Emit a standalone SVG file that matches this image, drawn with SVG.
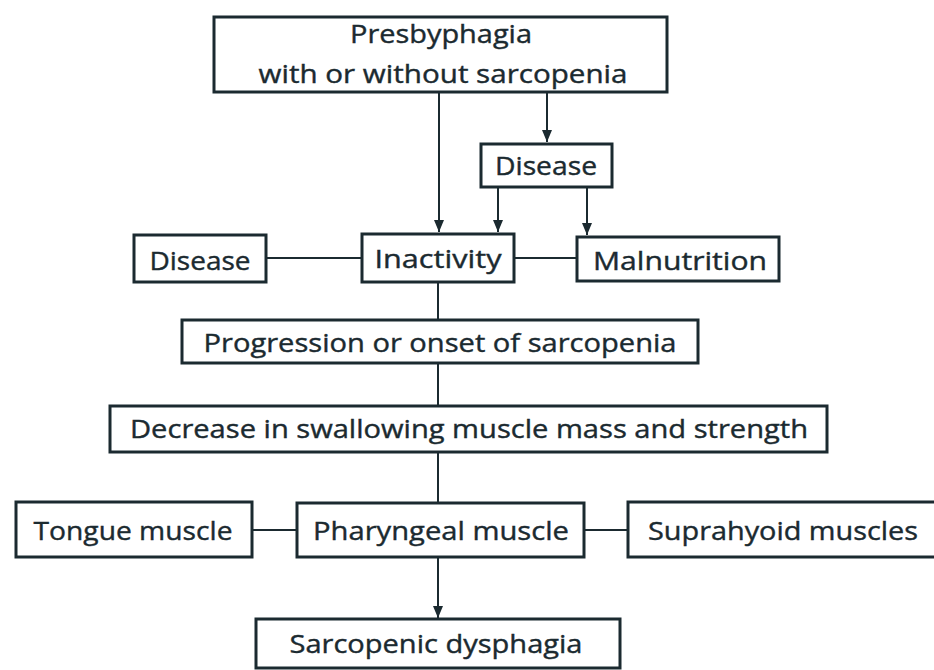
<svg xmlns="http://www.w3.org/2000/svg" width="934" height="670" viewBox="0 0 934 670">
<defs>
<style>
.box{fill:#ffffff;stroke:#1b2a30;stroke-width:3}
.t{font-family:"Open Sans","Liberation Sans",sans-serif;font-size:26px;fill:#1b2a30;stroke:#1b2a30;stroke-width:0.4;text-anchor:middle}
.c{stroke:#1b2a30;stroke-width:2;fill:none}
</style>
<marker id="av" markerUnits="userSpaceOnUse" markerWidth="10" markerHeight="12" viewBox="0 0 10 12" refX="5" refY="12" orient="0">
<path d="M0,0 L10,0 L5,12 Z" fill="#1b2a30"/>
</marker>
</defs>
<rect width="934" height="670" fill="#ffffff"/>
<g id="connectors">
<line class="c" x1="439" y1="92" x2="439" y2="232" marker-end="url(#av)"/>
<line class="c" x1="547" y1="92" x2="547" y2="142" marker-end="url(#av)"/>
<line class="c" x1="498" y1="187" x2="498" y2="232" marker-end="url(#av)"/>
<line class="c" x1="587" y1="187" x2="587" y2="235" marker-end="url(#av)"/>
<line class="c" x1="266" y1="258" x2="362" y2="258"/>
<line class="c" x1="514" y1="258" x2="577" y2="258"/>
<line class="c" x1="438" y1="282" x2="438" y2="319"/>
<line class="c" x1="438" y1="363" x2="438" y2="406"/>
<line class="c" x1="438" y1="452" x2="438" y2="502"/>
<line class="c" x1="252" y1="530" x2="297" y2="530"/>
<line class="c" x1="584" y1="530" x2="628" y2="530"/>
<line class="c" x1="438" y1="557" x2="438" y2="618" marker-end="url(#av)"/>
</g>
<g id="presbyphagia">
<rect class="box" x="214" y="17" width="453" height="75"/>
<text class="t" x="441" y="43" textLength="182" lengthAdjust="spacingAndGlyphs">Presbyphagia</text>
<text class="t" x="443" y="83" textLength="369" lengthAdjust="spacingAndGlyphs">with or without sarcopenia</text>
</g>
<g id="disease-top">
<rect class="box" x="481" y="144" width="131" height="43"/>
<text class="t" x="546" y="175" textLength="102" lengthAdjust="spacingAndGlyphs">Disease</text>
</g>
<g id="disease-left">
<rect class="box" x="134" y="235" width="132" height="47"/>
<text class="t" x="200" y="270" textLength="101" lengthAdjust="spacingAndGlyphs">Disease</text>
</g>
<g id="inactivity">
<rect class="box" x="362" y="234" width="152" height="48"/>
<text class="t" x="438" y="268" textLength="127" lengthAdjust="spacingAndGlyphs">Inactivity</text>
</g>
<g id="malnutrition">
<rect class="box" x="577" y="237" width="202" height="44"/>
<text class="t" x="680" y="270" textLength="174" lengthAdjust="spacingAndGlyphs">Malnutrition</text>
</g>
<g id="progression">
<rect class="box" x="182" y="320" width="516" height="43"/>
<text class="t" x="440" y="352" textLength="473" lengthAdjust="spacingAndGlyphs">Progression or onset of sarcopenia</text>
</g>
<g id="decrease">
<rect class="box" x="110" y="406" width="717" height="46"/>
<text class="t" x="469" y="438" textLength="678" lengthAdjust="spacingAndGlyphs">Decrease in swallowing muscle mass and strength</text>
</g>
<g id="tongue">
<rect class="box" x="16" y="502" width="236" height="55"/>
<text class="t" x="133" y="540" textLength="199" lengthAdjust="spacingAndGlyphs">Tongue muscle</text>
</g>
<g id="pharyngeal">
<rect class="box" x="297" y="503" width="287" height="54"/>
<text class="t" x="441" y="540" textLength="256" lengthAdjust="spacingAndGlyphs">Pharyngeal muscle</text>
</g>
<g id="suprahyoid">
<rect class="box" x="628" y="502" width="310" height="55"/>
<text class="t" x="783" y="540" textLength="270" lengthAdjust="spacingAndGlyphs">Suprahyoid muscles</text>
</g>
<g id="sarcopenic">
<rect class="box" x="256" y="619" width="364" height="49"/>
<text class="t" x="436" y="653" textLength="293" lengthAdjust="spacingAndGlyphs">Sarcopenic dysphagia</text>
</g>
</svg>
